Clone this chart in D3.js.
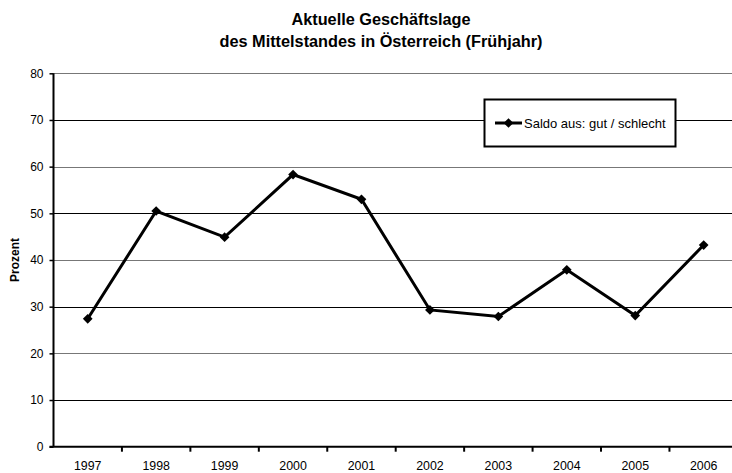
<!DOCTYPE html>
<html>
<head>
<meta charset="utf-8">
<script src="https://cdn.jsdelivr.net/npm/d3@7"></script>
<style>
  body { margin: 0; background: #fff; }
  svg { display: block; font-family: "Liberation Sans", Arial, sans-serif; }
</style>
</head>
<body>
<svg id="chart" width="732" height="473"></svg>
<script>
// data
var years = ["1997", "1998", "1999", "2000", "2001", "2002", "2003", "2004", "2005", "2006"];
var saldo = [27.4, 50.5, 44.9, 58.3, 53.0, 29.3, 27.9, 37.9, 28.1, 43.2];
var yTicks = [0, 10, 20, 30, 40, 50, 60, 70, 80];
var titleLines = ["Aktuelle Geschäftslage", "des Mittelstandes in Österreich (Frühjahr)"];
var seriesName = "Saldo aus: gut / schlecht";

var svg = d3.select('#chart');
var width = 732, height = 473;
var plotLeft = 53.5, plotTop = 73.3, plotBottom = 446.7;
var bandW = 68.44;
var fontFam = '"Liberation Sans", Arial, sans-serif';

var x = d3.scaleBand()
    .domain(years)
    .range([plotLeft, plotLeft + bandW * years.length]);
var y = d3.scaleLinear()
    .domain([0, 80])
    .range([plotBottom, plotTop]);

// title
svg.selectAll('text.title')
    .data(titleLines)
  .enter().append('text')
    .attr('class', 'title')
    .attr('x', 381)
    .attr('y', function(d, i) { return 25 + i * 21.5; })
    .attr('text-anchor', 'middle')
    .style('font-size', '16.3px')
    .style('font-weight', 'bold')
    .text(function(d) { return d; });

// gridlines
svg.append('g')
    .selectAll('line')
    .data(yTicks.filter(function(d) { return d > 0; }))
  .enter().append('line')
    .attr('x1', plotLeft)
    .attr('x2', width)
    .attr('y1', function(d) { return Math.round(y(d)) + 0.5; })
    .attr('y2', function(d) { return Math.round(y(d)) + 0.5; })
    .attr('stroke', function(d) { return d % 20 == 0 ? '#777' : '#000'; })
    .attr('stroke-width', 1);

// y axis
var yAxis = svg.append('g')
    .attr('transform', 'translate(' + plotLeft + ',0)')
    .call(d3.axisLeft(y).tickValues(yTicks).tickSize(4).tickPadding(6));
yAxis.select('.domain').attr('stroke-width', 2).attr('d', 'M0,' + plotTop + 'V' + plotBottom);
yAxis.selectAll('.tick line').attr('stroke-width', 1.5);
yAxis.selectAll('text').style('font-size', '12px').style('font-family', fontFam);

// x axis: ticks on band boundaries
var xAxis = svg.append('g')
    .attr('transform', 'translate(0,' + plotBottom + ')')
    .call(d3.axisBottom(x).tickSize(0).tickPadding(15));
xAxis.select('.domain').attr('stroke-width', 2).attr('d', 'M' + (plotLeft - 4) + ',0H' + width);
xAxis.selectAll('text').style('font-size', '12.4px').style('font-family', fontFam);
xAxis.selectAll('line.bt')
    .data(years.slice(1))
  .enter().append('line')
    .attr('class', 'bt')
    .attr('x1', function(d) { return x(d); })
    .attr('x2', function(d) { return x(d); })
    .attr('y1', 0)
    .attr('y2', 5)
    .attr('stroke', '#000')
    .attr('stroke-width', 2);

// y label
svg.append('text')
    .attr('transform', 'translate(19,' + ((plotTop + plotBottom) / 2) + ') rotate(-90)')
    .attr('text-anchor', 'middle')
    .style('font-size', '12px')
    .style('font-weight', 'bold')
    .text('Prozent');

// line
var line = d3.line()
    .x(function(d, i) { return x(years[i]) + x.bandwidth() / 2; })
    .y(function(d) { return y(d); });

svg.append('path')
    .datum(saldo)
    .attr('d', line)
    .attr('fill', 'none')
    .attr('stroke', '#000')
    .attr('stroke-width', 3)
    .attr('stroke-linejoin', 'miter');

var diamond = d3.symbol().type(d3.symbolDiamond2).size(60);
svg.selectAll('path.pt')
    .data(saldo)
  .enter().append('path')
    .attr('class', 'pt')
    .attr('d', diamond)
    .attr('transform', function(d, i) {
        return 'translate(' + (x(years[i]) + x.bandwidth() / 2) + ',' + y(d) + ')';
    })
    .attr('fill', '#000');

// legend
var lg = svg.append('g');
lg.append('rect')
    .attr('x', 484.5).attr('y', 99.5)
    .attr('width', 191).attr('height', 47)
    .attr('fill', '#fff').attr('stroke', '#000').attr('stroke-width', 2);
lg.append('line')
    .attr('x1', 495).attr('x2', 522)
    .attr('y1', 123).attr('y2', 123)
    .attr('stroke', '#000').attr('stroke-width', 3);
lg.append('path')
    .attr('d', diamond)
    .attr('transform', 'translate(508.5,123)')
    .attr('fill', '#000');
lg.append('text')
    .attr('x', 524).attr('y', 127.5)
    .style('font-size', '13px')
    .text(seriesName);
</script>
</body>
</html>
